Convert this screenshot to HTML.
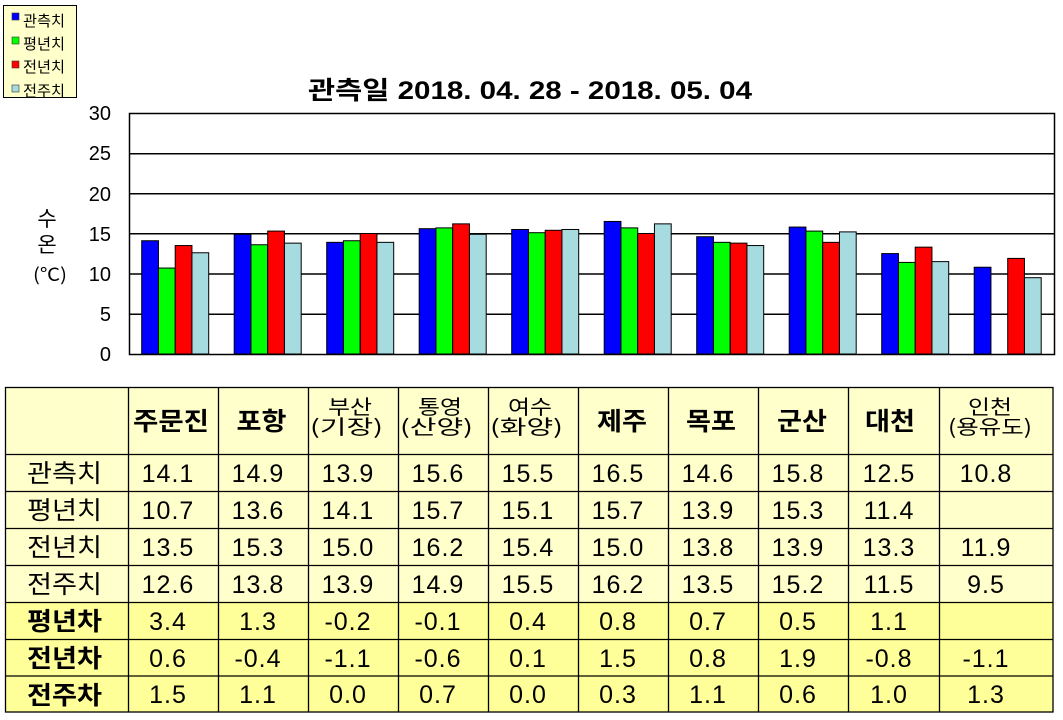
<!DOCTYPE html>
<html><head><meta charset="utf-8">
<style>
html,body{margin:0;padding:0;background:#fff;}
svg{display:block;}
text{font-family:"Liberation Sans","Noto Sans CJK KR","NanumGothic",sans-serif;fill:#000;}
.k{font-family:"Noto Sans CJK KR","NanumGothic",sans-serif;}
</style></head>
<body>
<svg width="1063" height="720" viewBox="0 0 1063 720" xmlns="http://www.w3.org/2000/svg">
<!-- legend -->
<rect x="3.5" y="5.5" width="73" height="92" fill="#FFFFCC" stroke="#000" stroke-width="1"/>
<rect x="12" y="13" width="7" height="7" fill="#0000FF" stroke="#333" stroke-width="0.6"/>
<rect x="12" y="37" width="7" height="7" fill="#00FF00" stroke="#333" stroke-width="0.6"/>
<rect x="12" y="61" width="7" height="7" fill="#FF0000" stroke="#333" stroke-width="0.6"/>
<rect x="12" y="85" width="7" height="7" fill="#A6DCDF" stroke="#333" stroke-width="0.6"/>
<g class="k" font-size="15">
<text class="k" x="23" y="26" textLength="42" lengthAdjust="spacingAndGlyphs">관측치</text>
<text class="k" x="23" y="49" textLength="42" lengthAdjust="spacingAndGlyphs">평년치</text>
<text class="k" x="23" y="72" textLength="42" lengthAdjust="spacingAndGlyphs">전년치</text>
<text class="k" x="23" y="96" textLength="42" lengthAdjust="spacingAndGlyphs">전주치</text>
</g>
<!-- title -->
<text x="308" y="99" font-size="25" font-weight="bold" textLength="444" lengthAdjust="spacingAndGlyphs">관측일 2018. 04. 28 - 2018. 05. 04</text>
<!-- y axis title -->
<text class="k" x="47" y="226" font-size="21" text-anchor="middle">수</text>
<text class="k" x="47" y="252" font-size="21" text-anchor="middle">온</text>
<text class="k" x="50" y="281" font-size="18" text-anchor="middle" textLength="34" lengthAdjust="spacingAndGlyphs">(℃)</text>
<!-- y tick labels -->
<g font-size="20" text-anchor="end">
<text x="111" y="120">30</text>
<text x="111" y="160">25</text>
<text x="111" y="201">20</text>
<text x="111" y="241">15</text>
<text x="111" y="281">10</text>
<text x="111" y="321">5</text>
<text x="111" y="361">0</text>
</g>
<!-- plot area -->
<rect x="129.5" y="113.5" width="925" height="241" fill="#fff" stroke="none"/>
<g stroke="#000" stroke-width="1.5">
<line x1="129" y1="153.7" x2="1054" y2="153.7"/>
<line x1="129" y1="193.7" x2="1054" y2="193.7"/>
<line x1="129" y1="233.8" x2="1054" y2="233.8"/>
<line x1="129" y1="274" x2="1054" y2="274"/>
<line x1="129" y1="314.2" x2="1054" y2="314.2"/>
</g>
<!-- bars -->
<g stroke="#000" stroke-width="1">
<rect x="141.7" y="240.73" width="16.75" height="113.27" fill="#0000FF"/>
<rect x="158.45" y="268.04" width="16.75" height="85.96" fill="#00FF00"/>
<rect x="175.2" y="245.55" width="16.75" height="108.45" fill="#FF0000"/>
<rect x="191.95" y="252.78" width="16.75" height="101.22" fill="#A6DCDF"/>
<rect x="234.2" y="234.3" width="16.75" height="119.7" fill="#0000FF"/>
<rect x="250.95" y="244.75" width="16.75" height="109.25" fill="#00FF00"/>
<rect x="267.7" y="231.09" width="16.75" height="122.91" fill="#FF0000"/>
<rect x="284.45" y="243.14" width="16.75" height="110.86" fill="#A6DCDF"/>
<rect x="326.7" y="242.34" width="16.75" height="111.66" fill="#0000FF"/>
<rect x="343.45" y="240.73" width="16.75" height="113.27" fill="#00FF00"/>
<rect x="360.2" y="233.5" width="16.75" height="120.5" fill="#FF0000"/>
<rect x="376.95" y="242.34" width="16.75" height="111.66" fill="#A6DCDF"/>
<rect x="419.2" y="228.68" width="16.75" height="125.32" fill="#0000FF"/>
<rect x="435.95" y="227.88" width="16.75" height="126.12" fill="#00FF00"/>
<rect x="452.7" y="223.86" width="16.75" height="130.14" fill="#FF0000"/>
<rect x="469.45" y="234.3" width="16.75" height="119.7" fill="#A6DCDF"/>
<rect x="511.7" y="229.48" width="16.75" height="124.52" fill="#0000FF"/>
<rect x="528.45" y="232.7" width="16.75" height="121.3" fill="#00FF00"/>
<rect x="545.2" y="230.29" width="16.75" height="123.71" fill="#FF0000"/>
<rect x="561.95" y="229.48" width="16.75" height="124.52" fill="#A6DCDF"/>
<rect x="604.2" y="221.45" width="16.75" height="132.55" fill="#0000FF"/>
<rect x="620.95" y="227.88" width="16.75" height="126.12" fill="#00FF00"/>
<rect x="637.7" y="233.5" width="16.75" height="120.5" fill="#FF0000"/>
<rect x="654.45" y="223.86" width="16.75" height="130.14" fill="#A6DCDF"/>
<rect x="696.7" y="236.71" width="16.75" height="117.29" fill="#0000FF"/>
<rect x="713.45" y="242.34" width="16.75" height="111.66" fill="#00FF00"/>
<rect x="730.2" y="243.14" width="16.75" height="110.86" fill="#FF0000"/>
<rect x="746.95" y="245.55" width="16.75" height="108.45" fill="#A6DCDF"/>
<rect x="789.2" y="227.07" width="16.75" height="126.93" fill="#0000FF"/>
<rect x="805.95" y="231.09" width="16.75" height="122.91" fill="#00FF00"/>
<rect x="822.7" y="242.34" width="16.75" height="111.66" fill="#FF0000"/>
<rect x="839.45" y="231.89" width="16.75" height="122.11" fill="#A6DCDF"/>
<rect x="881.7" y="253.58" width="16.75" height="100.42" fill="#0000FF"/>
<rect x="898.45" y="262.42" width="16.75" height="91.58" fill="#00FF00"/>
<rect x="915.2" y="247.16" width="16.75" height="106.84" fill="#FF0000"/>
<rect x="931.95" y="261.62" width="16.75" height="92.38" fill="#A6DCDF"/>
<rect x="974.2" y="267.24" width="16.75" height="86.76" fill="#0000FF"/>
<rect x="1007.7" y="258.4" width="16.75" height="95.6" fill="#FF0000"/>
<rect x="1024.45" y="277.68" width="16.75" height="76.32" fill="#A6DCDF"/>
</g>
<rect x="129.5" y="113.5" width="925" height="241" fill="none" stroke="#000" stroke-width="1.5"/>

<!-- table fills -->
<rect x="5" y="387" width="1048" height="215" fill="#FFFFCC"/>
<rect x="5" y="602" width="1048" height="110" fill="#FFFF99"/>
<!-- table lines -->
<g stroke="#000" stroke-width="1.3">
<rect x="5.5" y="387.5" width="1047.5" height="324.5" fill="none"/>
<line x1="5" y1="454.5" x2="1053" y2="454.5"/>
<line x1="5" y1="491.5" x2="1053" y2="491.5"/>
<line x1="5" y1="528.5" x2="1053" y2="528.5"/>
<line x1="5" y1="565.5" x2="1053" y2="565.5"/>
<line x1="5" y1="602.5" x2="1053" y2="602.5"/>
<line x1="5" y1="639.5" x2="1053" y2="639.5"/>
<line x1="5" y1="676" x2="1053" y2="676"/>
<line x1="128.5" y1="387" x2="128.5" y2="712"/>
<line x1="218.5" y1="387" x2="218.5" y2="712"/>
<line x1="308.5" y1="387" x2="308.5" y2="712"/>
<line x1="398.5" y1="387" x2="398.5" y2="712"/>
<line x1="488.5" y1="387" x2="488.5" y2="712"/>
<line x1="578.5" y1="387" x2="578.5" y2="712"/>
<line x1="668.5" y1="387" x2="668.5" y2="712"/>
<line x1="758.5" y1="387" x2="758.5" y2="712"/>
<line x1="848.5" y1="387" x2="848.5" y2="712"/>
<line x1="939.5" y1="387" x2="939.5" y2="712"/>
</g>

<!-- header -->
<g class="k" font-size="25" font-weight="bold" text-anchor="middle">
<text class="k" x="171" y="430" textLength="76" lengthAdjust="spacingAndGlyphs">주문진</text>
<text class="k" x="261.5" y="430" textLength="50" lengthAdjust="spacingAndGlyphs">포항</text>
<text class="k" x="622" y="430" textLength="50" lengthAdjust="spacingAndGlyphs">제주</text>
<text class="k" x="711" y="430" textLength="50" lengthAdjust="spacingAndGlyphs">목포</text>
<text class="k" x="802" y="430" textLength="50" lengthAdjust="spacingAndGlyphs">군산</text>
<text class="k" x="890" y="430" textLength="50" lengthAdjust="spacingAndGlyphs">대천</text>
</g>
<g class="k" font-size="20" text-anchor="middle">
<text class="k" x="350" y="414" textLength="44" lengthAdjust="spacingAndGlyphs">부산</text>
<text class="k" x="346.5" y="434" textLength="73" lengthAdjust="spacingAndGlyphs">(기장)</text>
<text class="k" x="440" y="414" textLength="44" lengthAdjust="spacingAndGlyphs">통영</text>
<text class="k" x="436.5" y="434" textLength="73" lengthAdjust="spacingAndGlyphs">(산양)</text>
<text class="k" x="530" y="414" textLength="44" lengthAdjust="spacingAndGlyphs">여수</text>
<text class="k" x="526.5" y="434" textLength="73" lengthAdjust="spacingAndGlyphs">(화양)</text>
<text class="k" x="990" y="414" textLength="44" lengthAdjust="spacingAndGlyphs">인천</text>
<text class="k" x="990" y="434" textLength="84" lengthAdjust="spacingAndGlyphs">(용유도)</text>
</g>

<!-- row labels -->
<g class="k" font-size="25" text-anchor="middle">
<text class="k" x="64.5" y="482" textLength="75" lengthAdjust="spacingAndGlyphs">관측치</text>
<text class="k" x="64.5" y="519" textLength="75" lengthAdjust="spacingAndGlyphs">평년치</text>
<text class="k" x="64.5" y="556" textLength="75" lengthAdjust="spacingAndGlyphs">전년치</text>
<text class="k" x="64.5" y="593" textLength="75" lengthAdjust="spacingAndGlyphs">전주치</text>
</g>
<g class="k" font-size="25" font-weight="bold" text-anchor="middle">
<text class="k" x="64.5" y="630" textLength="75" lengthAdjust="spacingAndGlyphs">평년차</text>
<text class="k" x="64.5" y="667" textLength="75" lengthAdjust="spacingAndGlyphs">전년차</text>
<text class="k" x="64.5" y="704" textLength="75" lengthAdjust="spacingAndGlyphs">전주차</text>
</g>

<!-- data -->
<g font-size="25" text-anchor="middle" letter-spacing="1">
<text x="168" y="482">14.1</text><text x="258" y="482">14.9</text><text x="348" y="482">13.9</text><text x="438" y="482">15.6</text><text x="528" y="482">15.5</text><text x="618" y="482">16.5</text><text x="708" y="482">14.6</text><text x="798" y="482">15.8</text><text x="889" y="482">12.5</text><text x="986" y="482">10.8</text>
<text x="168" y="519">10.7</text><text x="258" y="519">13.6</text><text x="348" y="519">14.1</text><text x="438" y="519">15.7</text><text x="528" y="519">15.1</text><text x="618" y="519">15.7</text><text x="708" y="519">13.9</text><text x="798" y="519">15.3</text><text x="889" y="519">11.4</text>
<text x="168" y="556">13.5</text><text x="258" y="556">15.3</text><text x="348" y="556">15.0</text><text x="438" y="556">16.2</text><text x="528" y="556">15.4</text><text x="618" y="556">15.0</text><text x="708" y="556">13.8</text><text x="798" y="556">13.9</text><text x="889" y="556">13.3</text><text x="986" y="556">11.9</text>
<text x="168" y="593">12.6</text><text x="258" y="593">13.8</text><text x="348" y="593">13.9</text><text x="438" y="593">14.9</text><text x="528" y="593">15.5</text><text x="618" y="593">16.2</text><text x="708" y="593">13.5</text><text x="798" y="593">15.2</text><text x="889" y="593">11.5</text><text x="986" y="593">9.5</text>
<text x="168" y="630">3.4</text><text x="258" y="630">1.3</text><text x="348" y="630">-0.2</text><text x="438" y="630">-0.1</text><text x="528" y="630">0.4</text><text x="618" y="630">0.8</text><text x="708" y="630">0.7</text><text x="798" y="630">0.5</text><text x="889" y="630">1.1</text>
<text x="168" y="667">0.6</text><text x="258" y="667">-0.4</text><text x="348" y="667">-1.1</text><text x="438" y="667">-0.6</text><text x="528" y="667">0.1</text><text x="618" y="667">1.5</text><text x="708" y="667">0.8</text><text x="798" y="667">1.9</text><text x="889" y="667">-0.8</text><text x="986" y="667">-1.1</text>
<text x="168" y="703">1.5</text><text x="258" y="703">1.1</text><text x="348" y="703">0.0</text><text x="438" y="703">0.7</text><text x="528" y="703">0.0</text><text x="618" y="703">0.3</text><text x="708" y="703">1.1</text><text x="798" y="703">0.6</text><text x="889" y="703">1.0</text><text x="986" y="703">1.3</text>
</g>
</svg>
</body></html>
